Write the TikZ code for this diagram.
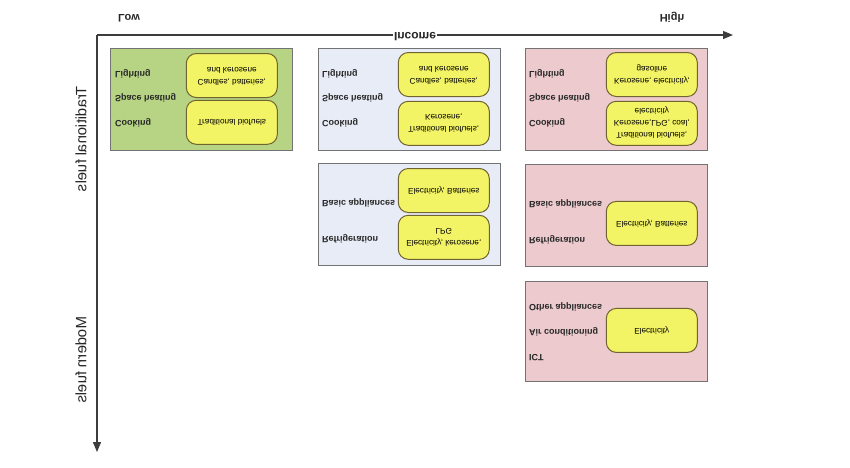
\documentclass[tikz,border=0pt]{standalone}
\usepackage{fontspec}
\setmainfont{Liberation Sans}
\usepackage{graphicx}
\usetikzlibrary{positioning,arrows.meta}
\definecolor{lowgreen}{RGB}{182,212,132}
\definecolor{midblue}{RGB}{232,236,247}
\definecolor{highpink}{RGB}{236,202,206}
\definecolor{fuelyellow}{RGB}{243,243,102}
\definecolor{fuelline}{RGB}{112,100,48}
\definecolor{axisgray}{RGB}{60,60,60}
\newcommand{\upside}[1]{\scalebox{1}[-1]{\begin{tabular}{@{}c@{}}#1\end{tabular}}}
\tikzset{
  panel/.style={rectangle, draw=black!55, line width=0.8pt, minimum width=182pt, minimum height=102pt, anchor=north west},
  fuel/.style={rectangle, rounded corners=10pt, draw=fuelline, line width=1pt, fill=fuelyellow, minimum width=91pt, minimum height=44pt, inner sep=1pt, font=\fontsize{8.2}{12}\selectfont},
  enduse/.style={anchor=west, inner sep=0pt, font=\fontsize{9}{10}\selectfont\bfseries, text=black!85},
  axislabel/.style={font=\fontsize{11}{13}\selectfont\bfseries, text=black!85},
  fuellabel/.style={rotate=-90, font=\fontsize{15}{17}\selectfont, text=black!85}
}
\begin{document}
\begin{tikzpicture}[x=1pt, y=-1pt]
\useasboundingbox (0,0) rectangle (850,467);
% axes
\coordinate (O) at (97,35);
\coordinate (X) at (733,35);
\coordinate (Y) at (97,452);
\draw[axisgray, line width=1.2pt, -{Triangle[length=10pt,width=8pt]}] (O) -- node[fill=white, inner sep=1pt, font=\fontsize{12}{14}\selectfont\bfseries, text=black!85] (inc) {\upside{Income}} (X);
\draw[axisgray, line width=1.2pt, -{Triangle[length=10pt,width=8pt]}] (O) -- (Y);
\node[axislabel] (low) at (129,17) {\upside{Low}};
\node[axislabel] (high) at (672,17) {\upside{High}};
\node[fuellabel] (trad) at (83,139) {\upside{Traditional fuels}};
\node[fuellabel] (mod) at (83,360) {\upside{Modern fuels}};
% low income
\node[panel, fill=lowgreen] (G1) at (110,48) {};
\node[enduse] (G1l) at ([xshift=5pt,yshift=-25pt]G1.north west) {\upside{Lighting}};
\node[enduse] (G1s) at ([xshift=5pt,yshift=-49pt]G1.north west) {\upside{Space heating}};
\node[enduse] (G1c) at ([xshift=5pt,yshift=-74pt]G1.north west) {\upside{Cooking}};
\node[fuel, anchor=north east] (G1a) at ([xshift=-15pt,yshift=-5pt]G1.north east) {\upside{Candles, batteries,\\and kerosene}};
\node[fuel, anchor=south east] (G1b) at ([xshift=-15pt,yshift=6pt]G1.south east) {\upside{Traditional biofuels}};
% middle income
\node[panel, fill=midblue] (B1) at (318,48) {};
\node[enduse] (B1l) at ([xshift=4pt,yshift=-25pt]B1.north west) {\upside{Lighting}};
\node[enduse] (B1s) at ([xshift=4pt,yshift=-49pt]B1.north west) {\upside{Space heating}};
\node[enduse] (B1c) at ([xshift=4pt,yshift=-74pt]B1.north west) {\upside{Cooking}};
\node[fuel, anchor=north east] (B1a) at ([xshift=-11pt,yshift=-4pt]B1.north east) {\upside{Candles, batteries,\\and kerosene}};
\node[fuel, anchor=south east] (B1b) at ([xshift=-11pt,yshift=5pt]B1.south east) {\upside{Traditional biofuels,\\Kerosene,}};
\node[panel, fill=midblue] (B2) at (318,163) {};
\node[enduse] (B2b) at ([xshift=4pt,yshift=-39pt]B2.north west) {\upside{Basic appliances}};
\node[enduse] (B2r) at ([xshift=4pt,yshift=-75pt]B2.north west) {\upside{Refrigeration}};
\node[fuel, anchor=north east] (B2a) at ([xshift=-11pt,yshift=-5pt]B2.north east) {\upside{Electricity, Batteries}};
\node[fuel, anchor=south east] (B2c) at ([xshift=-11pt,yshift=6pt]B2.south east) {\upside{Electricity, kerosene,\\LPG}};
% high income
\node[panel, fill=highpink] (P1) at (525,48) {};
\node[enduse] (P1l) at ([xshift=4pt,yshift=-25pt]P1.north west) {\upside{Lighting}};
\node[enduse] (P1s) at ([xshift=4pt,yshift=-49pt]P1.north west) {\upside{Space heating}};
\node[enduse] (P1c) at ([xshift=4pt,yshift=-74pt]P1.north west) {\upside{Cooking}};
\node[fuel, anchor=north east] (P1a) at ([xshift=-10pt,yshift=-4pt]P1.north east) {\upside{Kerosene, electricity,\\gasoline}};
\node[fuel, anchor=south east] (P1b) at ([xshift=-10pt,yshift=5pt]P1.south east) {\upside{Traditional biofuels,\\Kerosene,LPG, coal,\\electricity}};
\node[panel, fill=highpink] (P2) at (525,164) {};
\node[enduse] (P2b) at ([xshift=4pt,yshift=-39pt]P2.north west) {\upside{Basic appliances}};
\node[enduse] (P2r) at ([xshift=4pt,yshift=-75pt]P2.north west) {\upside{Refrigeration}};
\node[fuel, anchor=east] (P2a) at ([xshift=-10pt,yshift=-8pt]P2.east) {\upside{Electricity, Batteries}};
\node[panel, fill=highpink, minimum height=100pt] (P3) at (525,281) {};
\node[enduse] (P3o) at ([xshift=4pt,yshift=-25pt]P3.north west) {\upside{Other appliances}};
\node[enduse] (P3a) at ([xshift=4pt,yshift=-50pt]P3.north west) {\upside{Air conditioning}};
\node[enduse] (P3i) at ([xshift=4pt,yshift=-75pt]P3.north west) {\upside{ICT}};
\node[fuel, anchor=east] (P3e) at ([xshift=-10pt,yshift=1pt]P3.east) {\upside{Electricity}};
\end{tikzpicture}
\end{document}
